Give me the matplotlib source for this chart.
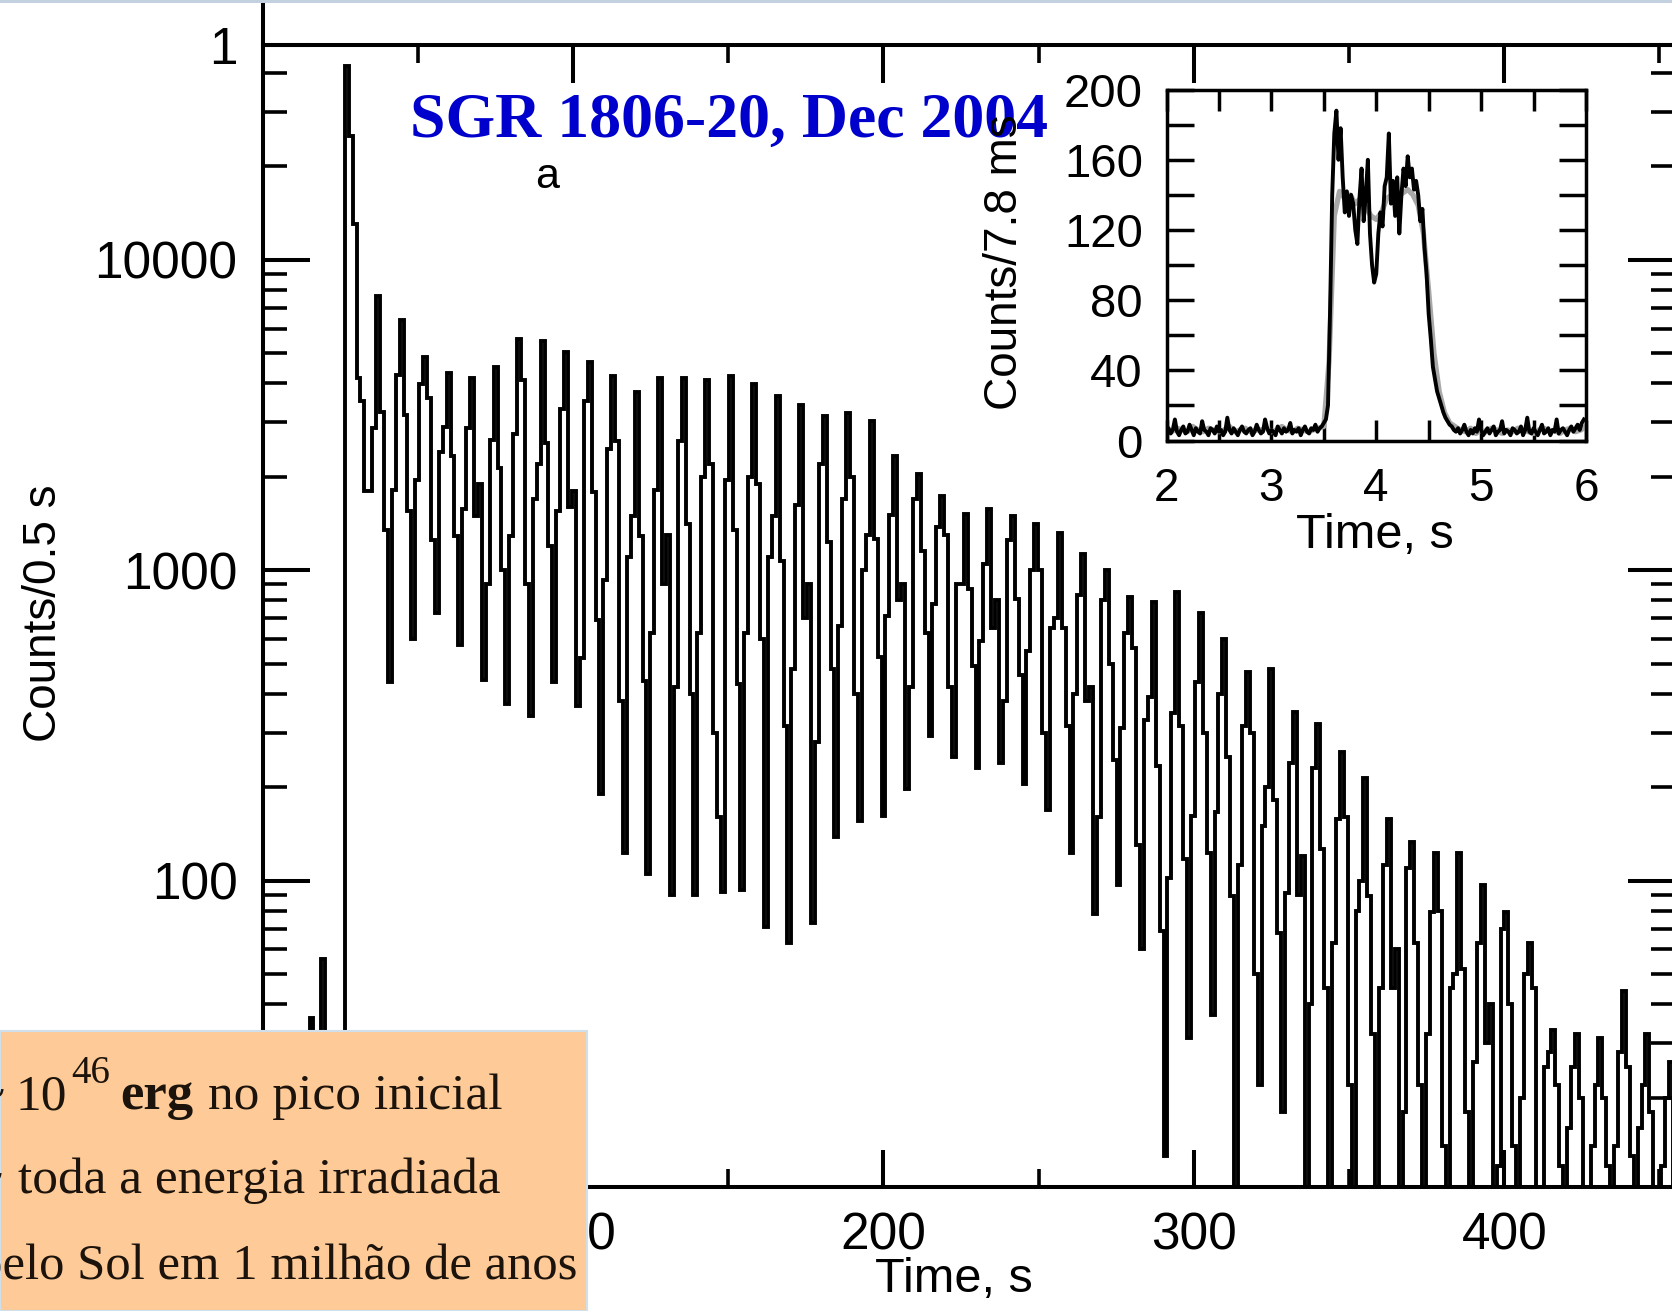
import numpy as np
import matplotlib.pyplot as plt
from matplotlib.patches import Rectangle
from matplotlib.ticker import (MultipleLocator, FixedLocator, FixedFormatter,
                               LogLocator, NullFormatter)

plt.rcParams['font.family'] = ['Liberation Sans', 'DejaVu Sans']

W, H = 1672, 1311

# ---- main light curve (counts per bin, 6 bins per 7.57 s pulse) ----
bin_w = 1.262
pre_flare = ([1] * 12 + [36] + [1, 1] + [56] + [1] * 5 +
             [42000, 25000, 13000, 4150, 3500, 1800, 1800, 2870])
pulses = [
    7640, 3240, 1350, 435, 1820, 4270,
    6420, 3160, 1550, 600, 1950, 3980,
    4870, 3600, 1250, 730, 2400, 2900,
    4320, 2340, 1290, 575, 1580, 2880,
    4160, 1500, 1900, 443, 900, 2630,
    4500, 2140, 1000, 372, 1290, 2750,
    5570, 4100, 900, 338, 1700, 2200,
    5480, 2570, 1200, 435, 1550, 3310,
    5060, 1600, 1800, 366, 520, 3500,
    4680, 1780, 690, 190, 930, 2450,
    4220, 2600, 380, 123, 1100, 1500,
    3750, 1290, 440, 105, 630, 1820,
    4160, 900, 1300, 90, 420, 2600,
    4160, 1410, 400, 90, 630, 2000,
    4090, 2200, 300, 160, 92, 1950,
    4220, 1350, 430, 93, 630, 2000,
    3990, 1900, 600, 71, 1100, 1500,
    3630, 1070, 316, 63, 480, 1620,
    3410, 700, 900, 73, 280, 2200,
    3150, 1230, 480, 138, 660, 1700,
    3200, 2000, 400, 156, 1000, 1300,
    3030, 1260, 525, 162, 710, 1510,
    2330, 800, 900, 198, 420, 1700,
    2040, 1150, 630, 293, 780, 1380,
    1740, 1300, 420, 250, 900, 900,
    1520, 870, 490, 231, 590, 1050,
    1570, 650, 800, 240, 380, 1250,
    1490, 810, 460, 205, 550, 1000,
    1410, 1000, 300, 169, 650, 700,
    1320, 650, 316, 123, 400, 830,
    1130, 380, 420, 78, 160, 800,
    1000, 500, 245, 97, 310, 630,
    820, 560, 130, 60, 330, 390,
    790, 234, 69, 13, 102, 347,
    850, 316, 117, 31, 162, 437,
    730, 300, 123, 37, 166, 400,
    600, 250, 89, 4, 112, 316,
    470, 300, 50, 22, 150, 200,
    480, 182, 68, 18, 91, 240,
    350, 90, 120, 4, 40, 230,
    320, 126, 45, 4, 63, 158,
    260, 160, 22, 4, 80, 100,
    214, 89, 32, 4, 45, 112,
    158, 45, 60, 4, 18, 110,
    133, 63, 22, 4, 32, 79,
    123, 80, 14, 4, 45, 50,
    123, 52, 18, 4, 26, 63,
    97, 30, 40, 4, 12, 70,
    79, 40, 14, 4, 20, 50,
    63, 45, 4, 4, 25, 28,
    33, 22, 12, 4, 16, 25,
    32, 20, 4, 4, 14, 22,
    31, 20, 12, 4, 14, 28,
    44, 25, 13, 4, 16, 22,
    32, 18, 4, 4, 12, 20,
]
tail = [26, 4]
counts = np.array(pre_flare + pulses + tail, dtype=float)
edges = np.arange(len(counts) + 1) * bin_w

x_ticks = [100, 200, 300, 400]
y_ticks = [100, 1000, 10000, 49300]
y_labels = ['100', '1000', '10000', '1']

# ---- inset: initial spike, 7.8 ms resolution ----
inset_step = 0.02
inset_counts = [
    5, 7, 4, 6, 12, 5, 3, 6, 8, 4, 5, 9, 6, 3, 7, 5, 4, 11, 6, 5,
    3, 7, 6, 4, 8, 5, 6, 3, 5, 13, 6, 4, 7, 5, 3, 6, 8, 5, 4, 6,
    7, 3, 5, 9, 6, 4, 5, 12, 7, 4, 6, 5, 3, 8, 6, 4, 7, 5, 6, 10,
    4, 6, 5, 7, 3, 6, 8, 5, 4, 7, 6, 9, 5, 7, 8, 10, 12,
    20, 75, 140, 175, 188, 160, 178, 150, 130, 142,
    128, 140, 135, 120, 112, 138, 155, 125, 140, 160,
    118, 100, 90, 95, 118, 130, 122, 145, 150, 175,
    135, 148, 128, 150, 118, 140, 155, 145, 162, 150,
    155, 143, 148, 140, 125, 132, 110, 95, 72, 58,
    42, 35, 28, 24, 20, 16, 13, 11, 9,
    8, 6, 5, 7, 4, 6, 9, 5, 3, 6, 4, 7, 5, 12, 6, 3, 5, 7, 4, 6,
    8, 3, 5, 6, 11, 4, 6, 5, 3, 7, 6, 4, 5, 8, 3, 6, 13, 5, 4, 7,
    5, 3, 6, 9, 4, 5, 7, 3, 6, 5, 12, 4, 6, 7, 5, 3, 6, 8, 5, 7,
    9, 6, 10, 12,
]
model_step = 0.05
model_counts = [
    6, 5, 7, 6, 5, 8, 6, 5, 7, 6, 5, 6, 8, 5, 6, 7, 5, 6, 6, 7,
    5, 6, 8, 6, 5, 7, 6, 5, 6, 7,
    8, 45, 128, 142, 138, 140, 135, 138, 133, 128,
    126, 130, 138, 140, 138, 141, 143, 140, 134, 118,
    85, 50, 28, 16, 10, 8,
    6, 5, 7, 4, 6, 5, 7, 6, 4, 6, 5, 7, 6, 5, 4, 6, 7, 5, 6, 4,
    6, 7, 5, 6, 8,
]
t_inset = 2 + inset_step * np.arange(len(inset_counts))
t_model = 2 + model_step * np.arange(len(model_counts))

fig = plt.figure(figsize=(W / 100, H / 100), dpi=100)

# main panel
ax = fig.add_axes([262.5 / W, 1 - 1187 / H, (1675 - 262.5) / W, (1187 - 44.8) / H])
ax.set_yscale('log')
ax.stairs(counts, edges, baseline=None, color='black', lw=2.8)
ax.set_xlim(0, 455)
ax.set_ylim(10.3, 49300)

ax.xaxis.set_major_locator(FixedLocator(x_ticks))
ax.xaxis.set_minor_locator(MultipleLocator(50))
ax.yaxis.set_major_locator(FixedLocator(y_ticks))
ax.yaxis.set_major_formatter(FixedFormatter(y_labels))
ax.yaxis.set_minor_locator(LogLocator(base=10, subs=np.arange(2, 10)))
ax.yaxis.set_minor_formatter(NullFormatter())

ax.tick_params(which='both', direction='in', top=True, right=True,
               labelsize=37, labelcolor='black', pad=18)
ax.tick_params(axis='x', which='major', length=27, width=2.9)
ax.tick_params(axis='x', which='minor', length=13, width=2.6)
ax.tick_params(axis='y', which='major', length=34, width=2.9)
ax.tick_params(axis='y', which='minor', length=17, width=2.6)
for s in ax.spines.values():
    s.set_linewidth(2.9)
ax.plot([0, 0], [1, 1.04], transform=ax.transAxes, color='black',
        lw=2.9, clip_on=False)

fig.text(954 / W, 1 - 1280 / H, 'Time, s', ha='center', va='center',
         fontsize=35, color='black')
fig.text(44 / W, 1 - 613 / H, 'Counts/0.5 s', ha='center', va='center',
         rotation=90, fontsize=33, color='black')
fig.text(547 / W, 1 - 177 / H, 'a', ha='center', va='center', fontsize=31,
         color='black')
fig.text(410 / W, 1 - 136.5 / H, 'SGR 1806-20, Dec 2004', ha='left',
         va='baseline', fontsize=46, fontweight='bold',
         family='Liberation Serif', color='#0000CC', zorder=5)

# inset panel
axin = fig.add_axes([1166.5 / W, 1 - 440.5 / H, (1586 - 1166.5) / W, (440.5 - 89.6) / H])
axin.plot(t_model, model_counts, color='#A8A8A8', lw=3.8)
axin.plot(t_inset, inset_counts, color='black', lw=2.8)
axin.set_xlim(2, 6)
axin.set_ylim(0, 200)
axin.xaxis.set_major_locator(MultipleLocator(1))
axin.xaxis.set_minor_locator(MultipleLocator(0.5))
axin.yaxis.set_major_locator(MultipleLocator(40))
axin.yaxis.set_minor_locator(MultipleLocator(20))
axin.tick_params(which='both', direction='in', top=True, right=True,
                 labelsize=34, labelcolor='black', width=2.5)
axin.tick_params(axis='x', which='both', length=15, pad=19, labelsize=33)
axin.tick_params(axis='y', which='both', length=19.5, pad=17)
for s in axin.spines.values():
    s.set_linewidth(2.5)
fig.text(1375 / W, 1 - 536 / H, 'Time, s', ha='center', va='center',
         fontsize=35, color='black')
fig.text(1005 / W, 1 - 262 / H, 'Counts/7.8 ms', ha='center', va='center',
         rotation=90, fontsize=33, color='black', zorder=6)

# slide frame line and the text box over the lower left corner
fig.add_artist(Rectangle((0, 1 - 3 / H), 1, 3 / H, transform=fig.transFigure,
                         facecolor='#C3D0E0', edgecolor='none', zorder=9))
fig.add_artist(Rectangle((0, 0), 587 / W, (H - 1031) / H,
                         transform=fig.transFigure, facecolor='#FECA97',
                         edgecolor='#CFE0EA', lw=1.5, zorder=10))

serif = dict(family='Liberation Serif', color='#1c140c', va='baseline', zorder=11)
fig.text(5 / W, 1 - 1109 / H, '~', ha='right', fontsize=36, **serif)
fig.text(15.6 / W, 1 - 1109 / H, '10', ha='left', fontsize=37, **serif)
fig.text(71 / W, 1 - 1083 / H, '46', ha='left', fontsize=28, **serif)
fig.text(120 / W, 1 - 1109 / H, 'erg', ha='left', fontsize=38,
         fontweight='bold', **serif)
fig.text(207.6 / W, 1 - 1109 / H, 'no pico inicial', ha='left', fontsize=37,
         **serif)
fig.text(3 / W, 1 - 1193 / H, '~', ha='right', fontsize=36, **serif)
fig.text(18 / W, 1 - 1193 / H, 'toda a energia irradiada', ha='left',
         fontsize=37, **serif)
fig.text(-23 / W, 1 - 1279 / H, 'pelo Sol em 1 milhão de anos', ha='left',
         fontsize=36.5, **serif)

fig.savefig('out.png', dpi=100)
